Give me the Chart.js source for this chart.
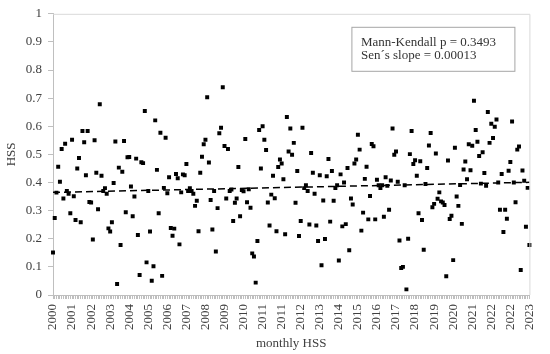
<!DOCTYPE html>
<html>
<head>
<meta charset="utf-8">
<script src="https://cdn.jsdelivr.net/npm/chart.js@4"></script>
<style>
  html, body { margin: 0; padding: 0; background: #fff; }
  #wrap { width: 550px; height: 354px; position: relative; }
</style>
</head>
<body>
<div id="wrap"><canvas id="myChart"></canvas></div>
<script>
// Valores mensuales de HSS (un punto por mes)
const hss = [
  0.151,0.274,0.364,0.456,0.403,0.519,0.343,0.538,0.37,0.36,0.291,0.552,
  0.351,0.267,0.450,0.487,0.259,0.583,0.543,0.426,0.583,0.331,0.329,0.197,
  0.550,0.435,0.305,0.678,0.424,0.37,0.38,0.36,0.237,0.226,0.259,0.398,
  0.546,0.039,0.453,0.178,0.438,0.548,0.294,0.490,0.491,0.386,0.280,0.350,
  0.485,0.213,0.071,0.472,0.469,0.654,0.116,0.37,0.226,0.051,0.102,0.621,
  0.445,0.291,0.577,0.068,0.381,0.559,0.362,0.419,0.238,0.211,0.236,0.430,
  0.415,0.180,0.365,0.429,0.426,0.466,0.37,0.38,0.37,0.36,0.317,0.335,
  0.227,0.435,0.492,0.536,0.552,0.703,0.471,0.338,0.233,0.37,0.155,0.309,
  0.575,0.595,0.739,0.530,0.343,0.519,0.370,0.375,0.263,0.328,0.343,0.455,
  0.280,0.373,0.369,0.555,0.330,0.376,0.310,0.148,0.137,0.044,0.192,0.587,
  0.450,0.600,0.552,0.516,0.329,0.247,0.357,0.424,0.344,0.227,0.455,0.482,
  0.468,0.412,0.216,0.633,0.510,0.592,0.499,0.541,0.328,0.441,0.210,0.263,
  0.595,0.38,0.39,0.37,0.251,0.505,0.435,0.360,0.247,0.192,0.426,0.106,
  0.336,0.199,0.422,0.484,0.261,0.441,0.335,0.38,0.39,0.123,0.429,0.244,
  0.400,0.252,0.452,0.159,0.343,0.322,0.468,0.482,0.570,0.517,0.229,0.293,
  0.413,0.456,0.269,0.352,0.537,0.529,0.269,0.410,0.39,0.38,0.39,0.278,
  0.419,0.388,0.303,0.407,0.592,0.499,0.510,0.403,0.194,0.096,0.100,0.39,
  0.020,0.200,0.501,0.583,0.466,0.479,0.424,0.291,0.476,0.267,0.161,0.395,
  0.452,0.532,0.576,0.312,0.324,0.503,0.342,0.365,0.333,0.329,0.320,0.067,
  0.478,0.270,0.282,0.124,0.524,0.350,0.317,0.391,0.253,0.446,0.475,0.412,
  0.536,0.444,0.531,0.691,0.587,0.545,0.494,0.396,0.508,0.434,0.388,0.651,
  0.541,0.609,0.558,0.598,0.624,0.40,0.303,0.430,0.224,0.303,0.271,0.442,
  0.473,0.617,0.40,0.330,0.517,0.528,0.089,0.443,0.406,0.243,0.381,0.178
];

// Etiquetas del eje X (una cada 11 meses, como en el original)
const tickYears = ['2000','2001','2002','2003','2004','2005','2006','2007','2008','2009',
  '2010','2011','2011','2012','2013','2014','2015','2016','2017','2018','2019','2020',
  '2021','2022','2022','2023'];
const labelStep = 11;

// Tendencia (Sen)
const trendStart = 0.365;
const senSlope = 0.00013;
const mkText = ['Mann-Kendall p = 0.3493', 'Sen\u00b4s slope = 0.00013'];

const labels = hss.map((_, i) => (i % labelStep === 0 ? tickYears[i / labelStep] : ''));
const last = hss.length - 1;
const trend = hss.map((_, i) => (i === 0 ? trendStart : i === last ? trendStart + senSlope * last : null));

Chart.defaults.font.family = "'Liberation Serif', serif";
Chart.defaults.font.size = 13;
Chart.defaults.color = '#404040';

// Marco del área y cuadro de texto
const boxPlugin = {
  id: 'boxPlugin',
  afterDraw(chart) {
    const { ctx, chartArea: a } = chart;
    ctx.save();
    ctx.strokeStyle = '#d9d9d9';
    ctx.lineWidth = 1;
    ctx.beginPath();
    ctx.moveTo(a.left, a.top + 0.5);
    ctx.lineTo(a.right + 0.5, a.top + 0.5);
    ctx.lineTo(a.right + 0.5, a.bottom);
    ctx.stroke();

    const bx = a.right - 177.5, by = a.top + 13.5, bw = 163, bh = 44;
    ctx.fillStyle = '#fff';
    ctx.fillRect(bx, by, bw, bh);
    ctx.strokeStyle = '#a6a6a6';
    ctx.strokeRect(bx, by, bw, bh);
    ctx.fillStyle = '#333';
    ctx.font = "13px 'Liberation Serif', serif";
    ctx.textBaseline = 'middle';
    ctx.fillText(mkText[0], bx + 9, by + 15);
    ctx.fillText(mkText[1], bx + 9, by + 28);
    ctx.restore();
  }
};

const ctx = document.getElementById('myChart').getContext('2d');
new Chart(ctx, {
  type: 'line',
  data: {
    labels: labels,
    datasets: [{
      label: 'HSS',
      data: hss,
      showLine: false,
      pointStyle: 'rect',
      pointRadius: 2.8,
      pointBorderWidth: 0,
      pointBackgroundColor: '#000',
      borderColor: '#000'
    }, {
      label: 'trend',
      data: trend,
      spanGaps: true,
      borderColor: '#000',
      borderWidth: 1.5,
      borderDash: [7, 4],
      pointRadius: 0
    }]
  },
  options: {
    responsive: true,
    maintainAspectRatio: false,
    animation: false,
    layout: { padding: { top: 12, right: 3, left: 0, bottom: 0 } },
    plugins: {
      legend: { display: false },
      tooltip: { enabled: false }
    },
    scales: {
      x: {
        type: 'category',
        offset: false,
        afterFit: (s) => { s.height = 59; },
        grid: { drawOnChartArea: false, tickLength: 4, color: '#bfbfbf' },
        border: { color: '#bfbfbf' },
        ticks: { autoSkip: false, minRotation: 90, maxRotation: 90, padding: 5 },
        title: { display: true, text: 'monthly HSS', padding: { top: 0, bottom: 3 } }
      },
      y: {
        min: 0,
        max: 1,
        afterFit: (s) => { s.width = 53; },
        grid: { drawOnChartArea: false, tickLength: 5, color: '#bfbfbf' },
        border: { color: '#bfbfbf' },
        ticks: {
          stepSize: 0.1,
          padding: 6,
          callback: (v) => String(Number(v.toFixed(1)))
        },
        title: { display: true, text: 'HSS', padding: { top: 4, bottom: 0 } }
      }
    }
  },
  plugins: [boxPlugin]
});
</script>
</body>
</html>
